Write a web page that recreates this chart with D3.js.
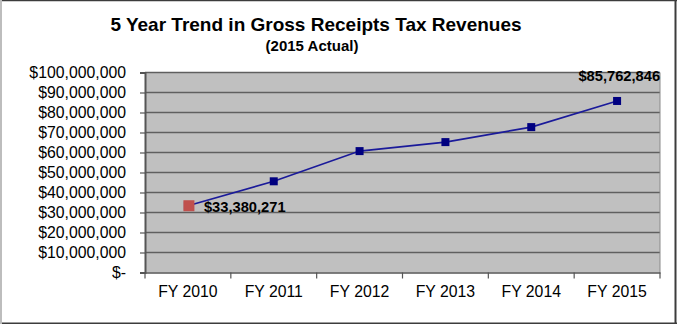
<!DOCTYPE html>
<html>
<head>
<meta charset="utf-8">
<script src="https://cdn.jsdelivr.net/npm/d3@7"></script>
<style>
  html, body { margin: 0; padding: 0; background: #fff; }
  svg { display: block; font-family: Arial, "Liberation Sans", sans-serif; }
</style>
</head>
<body>
<svg id="chart" width="677" height="324"></svg>
<script>
// Gross receipts tax revenues by fiscal year
const years = ["FY 2010", "FY 2011", "FY 2012", "FY 2013", "FY 2014", "FY 2015"];
const revenues = [33380271, 45600000, 60700000, 65200000, 72700000, 85762846];
const yTicks = [0, 10000000, 20000000, 30000000, 40000000, 50000000, 60000000, 70000000, 80000000, 90000000, 100000000];
const labelledYears = ["FY 2010", "FY 2015"];

const W = 677, H = 324;
const plot = { left: 145, right: 660, top: 72.5, bottom: 272.5 };
const FONT = "Arial, 'Liberation Sans', sans-serif";

const svg = d3.select("#chart");

// frame around the whole chart
svg.append("rect").attr("x", 0).attr("y", 0).attr("width", W).attr("height", H).attr("fill", "#fff");
svg.append("line").attr("x1", 0).attr("x2", W).attr("y1", 0.5).attr("y2", 0.5).attr("stroke", "#3c3c3c").attr("stroke-width", 1.5);
svg.append("line").attr("x1", 0).attr("x2", W).attr("y1", H - 0.75).attr("y2", H - 0.75).attr("stroke", "#3c3c3c").attr("stroke-width", 1.5);
svg.append("line").attr("x1", W - 1.5).attr("x2", W - 1.5).attr("y1", 0).attr("y2", H).attr("stroke", "#3c3c3c").attr("stroke-width", 2);
svg.append("line").attr("x1", 1).attr("x2", 1).attr("y1", 0).attr("y2", H).attr("stroke", "#bdbdbd").attr("stroke-width", 2);

// titles
svg.append("text").attr("x", 316).attr("y", 31).attr("text-anchor", "middle")
  .attr("font-size", 19).attr("font-weight", "bold").attr("fill", "#000")
  .text("5 Year Trend in Gross Receipts Tax Revenues");
svg.append("text").attr("x", 312).attr("y", 51).attr("text-anchor", "middle")
  .attr("font-size", 15).attr("font-weight", "bold").attr("fill", "#000")
  .text("(2015 Actual)");

const x = d3.scaleBand().domain(years).range([plot.left, plot.right]).padding(0);
const y = d3.scaleLinear().domain([0, 100000000]).range([plot.bottom, plot.top]);

// plot background
svg.append("rect")
  .attr("x", plot.left).attr("y", plot.top)
  .attr("width", plot.right - plot.left).attr("height", plot.bottom - plot.top)
  .attr("fill", "#c0c0c0");

// horizontal gridlines
svg.append("g").selectAll("line").data(yTicks.filter(d => d > 0)).join("line")
  .attr("x1", plot.left).attr("x2", plot.right)
  .attr("y1", d => y(d)).attr("y2", d => y(d))
  .attr("stroke", "#5f5f5f").attr("stroke-width", 1.6);

// right edge of plot area
svg.append("line").attr("x1", plot.right).attr("x2", plot.right)
  .attr("y1", plot.top).attr("y2", plot.bottom)
  .attr("stroke", "#8a8a8a").attr("stroke-width", 1);

const fmtMoney = d => d === 0 ? "$-" : "$" + d3.format(",")(d);

// y axis
const yAxis = svg.append("g").attr("transform", `translate(${plot.left},0)`)
  .call(d3.axisLeft(y).tickValues(yTicks).tickSize(5).tickPadding(14).tickFormat(fmtMoney));
yAxis.select(".domain").attr("stroke", "#555").attr("stroke-width", 2);
yAxis.selectAll(".tick line").attr("stroke", "#555").attr("stroke-width", 1.2);
yAxis.selectAll("text").attr("font-size", 15.8).attr("fill", "#000").attr("font-family", FONT);

// x axis
const xAxis = svg.append("g").attr("transform", `translate(0,${plot.bottom})`)
  .call(d3.axisBottom(x).tickSize(0).tickPadding(13));
xAxis.select(".domain").attr("stroke", "#555").attr("stroke-width", 1.5);
xAxis.selectAll("text").attr("font-size", 15.8).attr("fill", "#000").attr("font-family", FONT);
// category boundary ticks
const bounds = years.map(d => x(d)).concat([plot.right]);
svg.append("g").selectAll("line").data(bounds).join("line")
  .attr("x1", d => d).attr("x2", d => d)
  .attr("y1", plot.bottom).attr("y2", plot.bottom + 6)
  .attr("stroke", "#555").attr("stroke-width", 1.2);

const cx = d => x(d) + x.bandwidth() / 2;
const data = years.map((yr, i) => ({ yr, v: revenues[i] }));

// trend line
svg.append("path").datum(data)
  .attr("fill", "none").attr("stroke", "#1a1a9a").attr("stroke-width", 1.6)
  .attr("d", d3.line().x(d => cx(d.yr)).y(d => y(d.v)));

// markers
const ms = 8;
svg.append("g").selectAll("rect").data(data).join("rect")
  .attr("x", d => cx(d.yr) - ms / 2).attr("y", d => y(d.v) - ms / 2)
  .attr("width", ms).attr("height", ms).attr("fill", "#000080");

// highlighted starting year
const first = data[0];
const hs = 11;
svg.append("rect")
  .attr("x", cx(first.yr) - hs / 2 + 1).attr("y", y(first.v) - hs / 2)
  .attr("width", hs).attr("height", hs).attr("fill", "#c0504d");

// value labels
const lab = data.filter(d => labelledYears.includes(d.yr));
svg.append("text")
  .attr("x", cx(lab[0].yr) + 16).attr("y", y(lab[0].v) + 6)
  .attr("font-size", 14.7).attr("font-weight", "bold").attr("fill", "#000")
  .text("$" + d3.format(",")(lab[0].v));
svg.append("text")
  .attr("x", cx(lab[1].yr) + 43).attr("y", y(lab[1].v) - 20)
  .attr("text-anchor", "end")
  .attr("font-size", 14.7).attr("font-weight", "bold").attr("fill", "#000")
  .text("$" + d3.format(",")(lab[1].v));
</script>
</body>
</html>
